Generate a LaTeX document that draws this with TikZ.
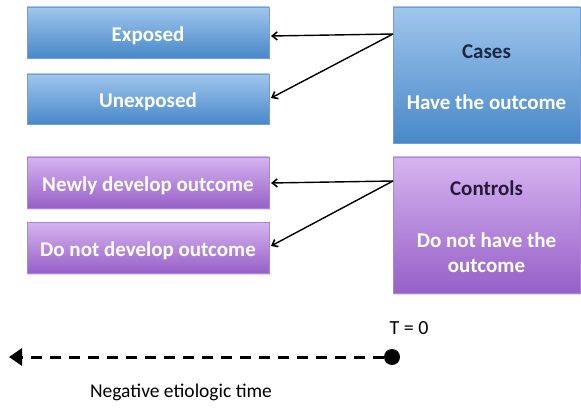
\documentclass[tikz,border=0pt]{standalone}
\usepackage{fontspec}
\setmainfont{Carlito}
\usetikzlibrary{arrows.meta,shadows}
\definecolor{bluetop}{RGB}{160,198,236}
\definecolor{bluebot}{RGB}{72,136,202}
\definecolor{blueedge}{RGB}{110,160,215}
\definecolor{purtop}{RGB}{214,180,240}
\definecolor{purbot}{RGB}{150,96,200}
\definecolor{puredge}{RGB}{175,130,215}
\definecolor{casetext}{RGB}{30,40,70}
\definecolor{ctrltext}{RGB}{40,25,60}
\tikzset{
  bluebox/.style={draw=blueedge, line width=0.6pt, top color=bluetop, bottom color=bluebot,
    drop shadow={shadow xshift=1pt, shadow yshift=-1.5pt, opacity=0.25}},
  purbox/.style={draw=puredge, line width=0.6pt, top color=purtop, bottom color=purbot,
    drop shadow={shadow xshift=1pt, shadow yshift=-1.5pt, opacity=0.25}},
  boxtext/.style={text=white, font=\fontsize{21}{25}\selectfont\bfseries},
  link/.style={line width=1.4pt, -{Straight Barb[length=5pt,width=8pt,line width=1.6pt]}},
}
\begin{document}
\begin{tikzpicture}[x=1pt,y=-1pt]
\useasboundingbox (0,0) rectangle (581,409);
\fill[white] (0,0) rectangle (581,409);

% left column: exposure status of cases
\path[bluebox] (27,7) rectangle (269,58) node[midway, boxtext, yshift=-3pt] (exp) {Exposed};
\path[bluebox] (27,74) rectangle (269,124) node[midway, boxtext, yshift=-3pt] (unexp) {Unexposed};
% left column: outcome status of controls
\path[purbox] (27,157) rectangle (269,208) node[midway, boxtext, yshift=-3pt] (newly) {Newly develop outcome};
\path[purbox] (27,222) rectangle (269,273) node[midway, boxtext, yshift=-3pt] (notdev) {Do not develop outcome};

% right column: groups
\path[bluebox] (393,7) rectangle (580,143);
\node[boxtext, text=casetext] (cases) at (486.5,52) {Cases};
\node[boxtext] (haveout) at (486.5,102) {Have the outcome};
\path[purbox] (393,157) rectangle (580,293);
\node[boxtext, text=ctrltext] (controls) at (486.5,188) {Controls};
\node[boxtext, align=center] (nothave) at (486.5,253) {Do not have the\\outcome};

% connectors from each group to its subgroups
\coordinate (csrc) at (393,34);
\coordinate (ksrc) at (393,181);
\coordinate (expR) at (271,36);
\coordinate (unexpR) at (271,98);
\coordinate (newlyR) at (271,183);
\coordinate (notdevR) at (271,246);
\draw[link] (csrc) -- (expR);
\draw[link] (csrc) -- (unexpR);
\draw[link] (ksrc) -- (newlyR);
\draw[link] (ksrc) -- (notdevR);

% time axis
\node[circle, fill=black, inner sep=0pt, minimum size=16pt] (t0) at (392,357) {};
\coordinate (tend) at (9,357);
\draw[line width=3pt, dash pattern=on 11pt off 8pt, -{Triangle[length=13pt,width=17pt]}]
  (t0.west) -- (tend);
\node[font=\fontsize{20}{24}\selectfont] (tlabel) at (409,328) {T = 0};
\node[font=\fontsize{19.5}{23}\selectfont] (neglabel) at (181,392) {Negative etiologic time};
\end{tikzpicture}
\end{document}
